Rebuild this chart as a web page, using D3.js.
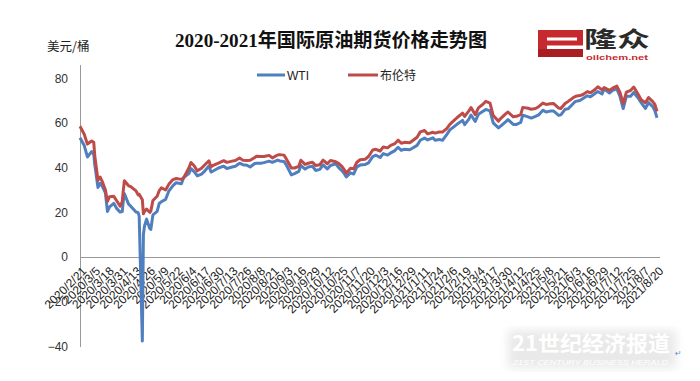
<!DOCTYPE html>
<html><head><meta charset="utf-8">
<script src="https://cdn.jsdelivr.net/npm/d3@7"></script>
<style>body{margin:0;background:#fff}svg{display:block}</style>
</head><body><svg id="c" width="700" height="381"></svg>
<script>
const dates = ["2020/2/21","2020/2/25","2020/2/28","2020/3/3","2020/3/5","2020/3/6","2020/3/9","2020/3/11","2020/3/13","2020/3/16","2020/3/18","2020/3/20","2020/3/24","2020/3/27","2020/3/30","2020/4/1","2020/4/2","2020/4/3","2020/4/7","2020/4/9","2020/4/14","2020/4/16","2020/4/17","2020/4/20","2020/4/21","2020/4/22","2020/4/24","2020/4/27","2020/4/28","2020/4/30","2020/5/4","2020/5/6","2020/5/8","2020/5/12","2020/5/15","2020/5/19","2020/5/22","2020/5/27","2020/5/29","2020/6/3","2020/6/5","2020/6/8","2020/6/11","2020/6/15","2020/6/17","2020/6/22","2020/6/24","2020/6/26","2020/7/1","2020/7/6","2020/7/9","2020/7/14","2020/7/17","2020/7/21","2020/7/24","2020/7/28","2020/7/31","2020/8/4","2020/8/6","2020/8/10","2020/8/13","2020/8/18","2020/8/21","2020/8/26","2020/8/28","2020/9/1","2020/9/3","2020/9/8","2020/9/11","2020/9/15","2020/9/17","2020/9/21","2020/9/24","2020/9/28","2020/10/1","2020/10/5","2020/10/8","2020/10/12","2020/10/15","2020/10/20","2020/10/23","2020/10/26","2020/10/28","2020/10/30","2020/11/3","2020/11/6","2020/11/9","2020/11/12","2020/11/17","2020/11/20","2020/11/24","2020/11/27","2020/12/1","2020/12/4","2020/12/8","2020/12/11","2020/12/15","2020/12/18","2020/12/21","2020/12/24","2020/12/29","2020/12/31","2021/1/5","2021/1/8","2021/1/12","2021/1/15","2021/1/20","2021/1/22","2021/1/26","2021/1/29","2021/2/2","2021/2/5","2021/2/9","2021/2/12","2021/2/17","2021/2/19","2021/2/23","2021/2/25","2021/3/1","2021/3/4","2021/3/8","2021/3/11","2021/3/15","2021/3/18","2021/3/23","2021/3/25","2021/3/30","2021/4/1","2021/4/6","2021/4/9","2021/4/13","2021/4/15","2021/4/20","2021/4/23","2021/4/27","2021/4/30","2021/5/4","2021/5/7","2021/5/11","2021/5/14","2021/5/19","2021/5/21","2021/5/25","2021/5/28","2021/6/2","2021/6/4","2021/6/8","2021/6/11","2021/6/15","2021/6/18","2021/6/22","2021/6/25","2021/6/29","2021/7/1","2021/7/6","2021/7/9","2021/7/13","2021/7/16","2021/7/19","2021/7/22","2021/7/26","2021/7/29","2021/8/2","2021/8/5","2021/8/9","2021/8/12","2021/8/16","2021/8/18","2021/8/20"];
const wti = [53.38,49.90,44.76,47.18,45.90,41.28,31.13,32.98,31.73,28.70,20.37,22.43,24.01,21.51,20.09,20.31,25.32,28.34,23.63,22.76,20.11,19.87,18.27,-37.63,10.01,13.78,16.94,12.78,12.34,18.84,20.39,23.99,24.74,25.78,29.43,31.96,33.25,32.81,35.49,37.29,39.55,38.19,36.34,37.12,37.96,40.73,38.01,38.49,39.82,40.63,39.62,40.29,40.59,41.96,41.29,41.04,40.27,41.70,41.95,41.94,42.24,42.89,42.34,43.39,42.97,42.76,41.37,36.76,37.33,38.28,40.97,39.31,40.31,40.60,38.72,39.22,41.19,39.43,40.96,41.70,39.85,38.56,37.39,35.79,37.66,37.14,40.29,41.12,41.43,42.15,44.91,45.53,44.55,46.26,45.60,46.57,47.62,49.10,47.74,48.23,48.00,48.52,49.93,52.24,53.21,52.36,53.31,52.27,52.61,52.20,54.76,56.85,58.36,59.47,61.14,59.24,61.67,63.53,60.64,63.83,65.05,66.02,65.39,60.00,57.76,58.56,60.55,61.45,59.33,59.32,60.18,63.46,62.67,62.14,62.94,63.58,65.69,64.90,65.28,65.37,63.36,63.58,66.07,66.32,68.83,69.62,70.05,70.91,72.12,71.64,73.06,74.05,72.98,75.23,73.37,74.56,75.25,71.81,66.42,71.91,71.91,73.62,71.26,69.09,66.48,69.09,67.29,65.46,62.32];
const brent = [58.50,54.95,50.52,51.86,51.29,45.27,34.36,35.79,33.85,30.05,24.88,26.98,27.15,24.93,22.76,24.74,29.94,34.11,31.87,31.48,29.60,27.82,28.08,25.57,19.33,20.37,21.44,19.99,20.46,25.27,27.20,29.72,30.97,29.98,32.50,34.65,35.13,34.74,35.33,39.79,42.30,40.80,38.55,39.72,40.71,43.08,40.31,41.02,42.03,43.10,42.35,42.90,43.14,44.32,43.34,43.22,43.30,44.43,45.09,44.99,44.96,45.46,44.35,45.64,45.81,45.58,44.07,39.78,39.83,40.53,43.30,41.44,41.94,42.43,40.93,41.29,43.34,41.72,43.16,42.62,41.77,40.46,39.12,37.46,39.71,39.45,42.40,43.53,43.75,44.96,47.86,48.18,47.42,49.25,48.84,49.97,50.76,52.26,50.91,51.29,51.09,51.80,53.60,55.99,56.58,55.10,55.79,55.41,55.91,55.88,57.46,59.34,61.09,62.43,64.34,62.91,65.37,66.88,63.69,66.74,68.24,69.63,68.88,63.28,60.79,61.95,64.14,64.86,62.74,62.95,63.67,66.94,66.57,66.11,66.42,67.25,68.88,68.28,68.55,68.71,66.66,66.44,68.65,69.63,71.35,71.89,72.22,72.69,73.99,73.51,74.81,76.18,74.76,75.84,74.53,75.55,76.49,73.59,68.62,73.79,74.50,76.05,72.89,70.38,69.04,71.31,69.51,68.23,65.18];
const tickLabels = ["2020/2/21","2020/3/5","2020/3/18","2020/3/31","2020/4/13","2020/4/26","2020/5/9","2020/5/22","2020/6/4","2020/6/17","2020/6/30","2020/7/13","2020/7/26","2020/8/8","2020/8/21","2020/9/3","2020/9/16","2020/9/29","2020/10/12","2020/10/25","2020/11/7","2020/11/20","2020/12/3","2020/12/16","2020/12/29","2021/1/11","2021/1/24","2021/2/6","2021/2/19","2021/3/4","2021/3/17","2021/3/30","2021/4/12","2021/4/25","2021/5/8","2021/5/21","2021/6/3","2021/6/16","2021/6/29","2021/7/12","2021/7/25","2021/8/7","2021/8/20"];
const yTicks = [-40,-20,0,20,40,60,80];
const seriesNames = ["WTI","布伦特"];
const colors = ["#4F7FBF","#BE4B48"];

const parse = d3.timeParse("%Y/%m/%d");
const svg = d3.select("#c");
const x = d3.scaleTime().domain([parse("2020/2/21"), parse("2021/8/20")]).range([80, 657]);
const y = d3.scaleLinear().domain([-40, 80]).range([346.4, 78.2]);

// title
svg.append("text").attr("x", 175).attr("y", 47)
  .attr("font-family", "'Liberation Serif','Noto Sans CJK SC',serif")
  .attr("font-size", 19).attr("font-weight", "bold").attr("fill", "#111")
  .attr("textLength", 312).attr("lengthAdjust", "spacingAndGlyphs")
  .text("2020-2021年国际原油期货价格走势图");

// unit label
svg.append("text").attr("x", 47).attr("y", 51)
  .attr("font-family", "'Noto Sans CJK SC',sans-serif").attr("font-size", 12.5).attr("fill", "#222")
  .text("美元/桶");

// y axis
const yAxis = d3.axisLeft(y).tickValues(yTicks).tickSize(0).tickPadding(12);
const gy = svg.append("g").attr("transform", "translate(80,0)").call(yAxis);
gy.select(".domain").remove();
gy.selectAll("text").attr("font-family", "'Liberation Sans',Arial,sans-serif").attr("font-size", 12).attr("fill", "#333");
svg.append("line").attr("x1", 80.5).attr("x2", 80.5).attr("y1", 65).attr("y2", 347).attr("stroke", "#999").attr("stroke-width", 1);

// x axis at 0
const xAxis = d3.axisBottom(x).tickValues(tickLabels.map(parse)).tickSize(0).tickFormat((d, i) => tickLabels[i]);
const gx = svg.append("g").attr("transform", `translate(0,${y(0)})`).call(xAxis);
gx.select(".domain").attr("stroke", "#999").attr("d", `M80,0.5H660`);
gx.selectAll("text")
  .attr("font-family", "'Liberation Sans',Arial,sans-serif").attr("font-size", 12).attr("fill", "#222")
  .attr("text-anchor", "end").attr("dy", null).attr("y", null)
  .attr("transform", "translate(4,12) rotate(-45)")
  .attr("dominant-baseline", "central");

// lines
const pts = dates.map(parse);
const line = d3.line().x((d, i) => x(pts[i])).y(d => y(d));
[wti, brent].forEach((s, k) => {
  svg.append("path").datum(s).attr("d", line).attr("fill", "none")
    .attr("stroke", colors[k]).attr("stroke-width", 3).attr("stroke-linejoin", "round");
});

// legend
const leg = [[257, 287], [348, 380]];
seriesNames.forEach((n, k) => {
  svg.append("line").attr("x1", leg[k][0]).attr("x2", leg[k][1] - 2).attr("y1", 75).attr("y2", 75)
    .attr("stroke", colors[k]).attr("stroke-width", 3);
  svg.append("text").attr("x", leg[k][1]).attr("y", 79.5)
    .attr("font-family", "'Liberation Sans','Noto Sans CJK SC',sans-serif").attr("font-size", 12).attr("fill", "#222")
    .text(n);
});

// logo
const lg = svg.append("g");
lg.append("rect").attr("x", 538).attr("y", 30).attr("width", 45).attr("height", 27).attr("fill", "#C62A2F");
lg.append("rect").attr("x", 547).attr("y", 37.5).attr("width", 30).attr("height", 3).attr("fill", "#fff");
lg.append("rect").attr("x", 547).attr("y", 45.5).attr("width", 36).attr("height", 3.5).attr("fill", "#fff");
lg.append("rect").attr("x", 538).attr("y", 49).attr("width", 45).attr("height", 8).attr("fill", "#A81E23");
lg.append("text").attr("x", 584).attr("y", 46.5).attr("font-family", "'Noto Sans CJK SC',sans-serif")
  .attr("font-size", 22).attr("font-weight", "bold").attr("fill", "#2a2a2a")
  .attr("textLength", 66).attr("lengthAdjust", "spacingAndGlyphs").text("隆众");
lg.append("text").attr("x", 586).attr("y", 60).attr("font-family", "'Liberation Sans',Arial,sans-serif")
  .attr("font-size", 7.5).attr("font-weight", "bold").attr("fill", "#C62A2F")
  .attr("textLength", 62).attr("lengthAdjust", "spacingAndGlyphs").text("oilchem.net");

// watermark
const defs = svg.append("defs");
defs.append("filter").attr("id", "blur").append("feGaussianBlur").attr("stdDeviation", 5);
svg.append("rect").attr("x", 508).attr("y", 330).attr("width", 168).attr("height", 38)
  .attr("fill", "#e4e4e4").attr("opacity", 0.8).attr("filter", "url(#blur)");
svg.append("text").attr("x", 512).attr("y", 351).attr("font-family", "'Noto Sans CJK SC',serif")
  .attr("font-size", 21).attr("font-weight", "bold").attr("fill", "#fff")
  .attr("textLength", 158).attr("lengthAdjust", "spacingAndGlyphs").text("21世纪经济报道");
svg.append("text").attr("x", 513).attr("y", 365).attr("font-family", "'Liberation Sans',Arial,sans-serif")
  .attr("font-size", 8).attr("font-style", "italic").attr("fill", "#fff")
  .attr("textLength", 155).attr("lengthAdjust", "spacingAndGlyphs").text("21ST CENTURY BUSINESS HERALD");
svg.append("text").attr("x", 675).attr("y", 356).attr("font-family", "'DejaVu Sans',sans-serif")
  .attr("font-size", 8).attr("fill", "#6a8fd0").text("↵");
</script></body></html>
